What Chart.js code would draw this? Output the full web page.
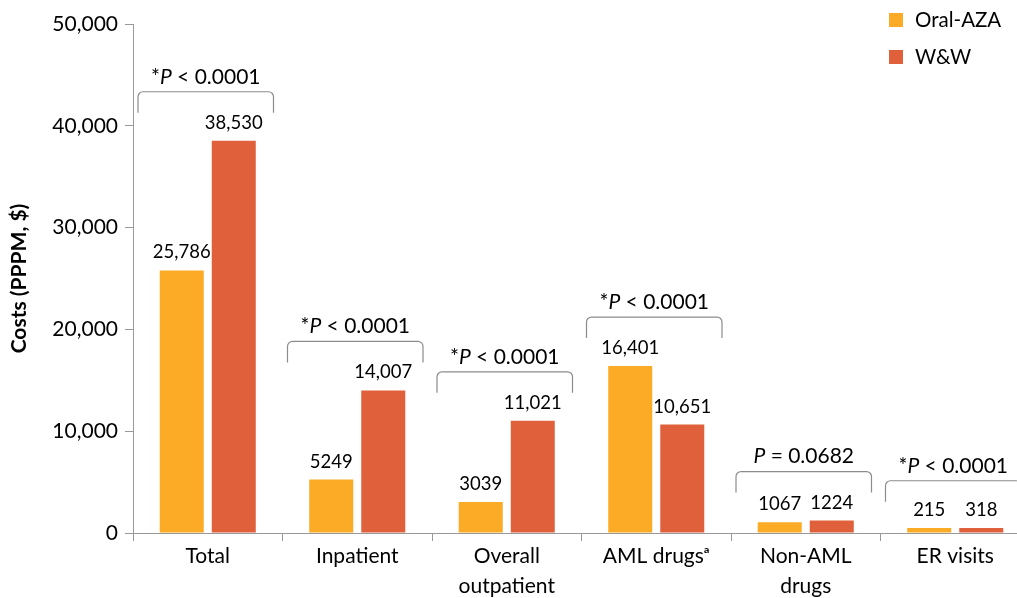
<!DOCTYPE html>
<html>
<head>
<meta charset="utf-8">
<script src="https://cdn.jsdelivr.net/npm/chart.js@4.4.0/dist/chart.umd.min.js"></script>
<style>
  html, body { margin: 0; padding: 0; background: #fff; overflow: hidden; }
  #contenedor { width: 1040px; height: 598px; }
</style>
</head>
<body>
<div id="contenedor"><canvas id="grafico1"></canvas></div>
<script>
const categorias = ["Total", "Inpatient", ["Overall", "outpatient"], "AML drugs\u1D43", ["Non-AML", "drugs"], "ER visits"];
const costosOralAza = [25786, 5249, 3039, 16401, 1067, 215];
const costosWW = [38530, 14007, 11021, 10651, 1224, 318];
const pConAsterisco = [true, true, true, true, false, true];
const pTexto = ["< 0.0001", "< 0.0001", "< 0.0001", "< 0.0001", "= 0.0682", "< 0.0001"];
const ejeYMax = 50000;
const ejeYPaso = 10000;

const fuente = "Lato, 'Open Sans', 'DejaVu Sans', sans-serif";
const colorTexto = "#000";
const colorEje = "#999";

function formatoValor(v) {
  // solo se usa separador de miles desde 10,000
  return v >= 10000 ? v.toLocaleString("en-US") : String(v);
}

const etiquetasPlugin = {
  id: "etiquetas",
  afterDatasetsDraw(chart) {
    const ctx = chart.ctx;
    const escalaX = chart.scales.x;
    const escalaY = chart.scales.y;
    ctx.save();

    // valores encima de cada barra
    ctx.font = "18.5px " + fuente;
    ctx.fillStyle = colorTexto;
    ctx.textAlign = "center";
    ctx.textBaseline = "middle";
    chart.data.datasets.forEach((ds, i) => {
      chart.getDatasetMeta(i).data.forEach((barra, j) => {
        ctx.fillText(formatoValor(ds.data[j]), barra.x, barra.y - 18);
      });
    });

    // llaves con el valor p de cada categoria
    const anchoCat = (escalaX.right - escalaX.left) / categorias.length;
    categorias.forEach((c, j) => {
      const centro = escalaX.getPixelForValue(j);
      const izq = centro - anchoCat / 2 + 5;
      const der = centro + anchoCat / 2 - 9;
      const maximo = Math.max(costosOralAza[j], costosWW[j]);
      const arriba = escalaY.getPixelForValue(maximo) - 49;
      const abajo = arriba + 21;
      const r = 5;

      ctx.beginPath();
      ctx.moveTo(izq, abajo);
      ctx.arcTo(izq, arriba, izq + r, arriba, r);
      ctx.arcTo(der, arriba, der, arriba + r, r);
      ctx.lineTo(der, abajo);
      ctx.strokeStyle = "#8c8c8c";
      ctx.lineWidth = 1.2;
      ctx.stroke();

      // "*P < 0.0001" con la P en cursiva
      const partes = [];
      if (pConAsterisco[j]) partes.push({ t: "*", f: "21px " + fuente });
      partes.push({ t: "P", f: "italic 21px " + fuente });
      partes.push({ t: " " + pTexto[j], f: "21px " + fuente });
      let total = 0;
      partes.forEach((p) => {
        ctx.font = p.f;
        p.w = ctx.measureText(p.t).width;
        total += p.w;
      });
      let xTexto = (izq + der) / 2 - total / 2;
      ctx.textAlign = "left";
      ctx.textBaseline = "middle";
      partes.forEach((p) => {
        ctx.font = p.f;
        ctx.fillText(p.t, xTexto, arriba - 15);
        xTexto += p.w;
      });
    });
    ctx.restore();
  },
  afterDraw(chart) {
    // leyenda vertical arriba a la derecha
    const ctx = chart.ctx;
    ctx.save();
    ctx.font = "20.5px " + fuente;
    ctx.textAlign = "left";
    ctx.textBaseline = "middle";
    chart.data.datasets.forEach((ds, i) => {
      const yCentro = 20 + i * 37;
      ctx.fillStyle = ds.backgroundColor;
      ctx.fillRect(889, yCentro - 7, 14, 14);
      ctx.fillStyle = colorTexto;
      ctx.fillText(ds.label, 915, yCentro);
    });
    ctx.restore();
  },
};

const ctx = document.getElementById("grafico1").getContext("2d");
const grafico = new Chart(ctx, {
  type: "bar",
  data: {
    labels: categorias,
    datasets: [
      {
        label: "Oral-AZA",
        data: costosOralAza,
        backgroundColor: "#FBAB26",
        minBarLength: 5,
      },
      {
        label: "W&W",
        data: costosWW,
        backgroundColor: "#E1603C",
        minBarLength: 5,
      },
    ],
  },
  options: {
    responsive: true,
    maintainAspectRatio: false,
    animation: false,
    categoryPercentage: 0.696,
    barPercentage: 0.846,
    layout: {
      padding: { top: 24, right: 10, left: 0, bottom: 0 },
    },
    scales: {
      x: {
        afterFit: (escala) => {
          escala.height = 65;
        },
        grid: {
          offset: true,
          drawOnChartArea: false,
          tickLength: 8,
          color: colorEje,
        },
        border: { color: colorEje },
        ticks: {
          color: colorTexto,
          padding: 0,
          font: { family: fuente, size: 21, lineHeight: 1.45 },
        },
      },
      y: {
        min: 0,
        max: ejeYMax,
        afterFit: (escala) => {
          escala.width = 133;
        },
        grid: {
          drawOnChartArea: false,
          tickLength: 8,
          color: colorEje,
        },
        border: { color: colorEje },
        ticks: {
          stepSize: ejeYPaso,
          color: colorTexto,
          padding: 7,
          font: { family: fuente, size: 21 },
          callback: (v) => v.toLocaleString("en-US"),
        },
        title: {
          display: true,
          text: "Costs (PPPM, $)",
          color: colorTexto,
          font: { family: fuente, size: 21, weight: "bold" },
          padding: { top: 7, bottom: 0 },
        },
      },
    },
    plugins: {
      legend: { display: false },
      tooltip: { enabled: false },
    },
  },
  plugins: [etiquetasPlugin],
});
</script>
</body>
</html>
